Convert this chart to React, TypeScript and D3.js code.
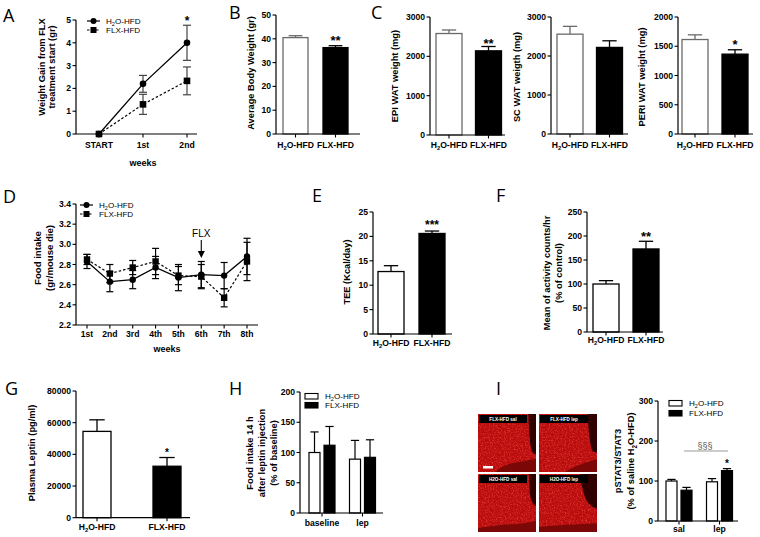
import React from "react";
import * as d3 from "d3";

const FONT = "'Liberation Sans', Arial, Helvetica, sans-serif";
const LETTER_FONT = "'Open Sans', 'Noto Sans', sans-serif";
const TITLE_FS = 9.3;
const TICK_FS = 8.6;
const LEG_FS = 8.1;

// ---------------- data ----------------
const groups = ["H2O-HFD", "FLX-HFD"];

const weeksA = ["START", "1st", "2nd"];
const gainH2O = [0, 2.2, 4.0];
const gainH2OErr = [0, 0.37, 0.77];
const gainFLX = [0, 1.3, 2.33];
const gainFLXErr = [0, 0.44, 0.61];

const bodyWeight = [40.5, 36.3];
const bodyWeightErr = [0.8, 0.8];

const epiWat = [2580, 2140];
const epiWatErr = [90, 110];
const scWat = [2560, 2220];
const scWatErr = [200, 170];
const periWat = [1615, 1365];
const periWatErr = [80, 75];

const weeksD = ["1st", "2nd", "3rd", "4th", "5th", "6th", "7th", "8th"];
const foodH2O = [2.83, 2.63, 2.65, 2.77, 2.67, 2.7, 2.69, 2.88];
const foodH2OErr = [0.07, 0.1, 0.09, 0.11, 0.13, 0.13, 0.13, 0.18];
const foodFLX = [2.85, 2.71, 2.77, 2.83, 2.69, 2.68, 2.47, 2.83];
const foodFLXErr = [0.05, 0.09, 0.07, 0.13, 0.09, 0.12, 0.09, 0.19];

const tee = [12.8, 20.6];
const teeErr = [1.2, 0.5];

const activity = [100, 173];
const activityErr = [7, 16];

const leptin = [54500, 32500];
const leptinErr = [7300, 5500];

const leptinGroups = ["baseline", "lep"];
const foodLepH2O = [100, 89];
const foodLepH2OErr = [34, 31];
const foodLepFLX = [112, 92];
const foodLepFLXErr = [31, 29];

const statGroups = ["sal", "lep"];
const pstatH2O = [100, 98];
const pstatH2OErr = [4, 8];
const pstatFLX = [77, 126];
const pstatFLXErr = [7, 5];

const imageLabels = ["FLX-HFD sal", "FLX-HFD lep", "H2O-HFD sal", "H2O-HFD lep"];

// ---------------- helpers ----------------
function Lbl({ text, fs }: { text: string; fs: number }) {
  const parts = text.split("H2O");
  const out: React.ReactNode[] = [];
  parts.forEach((p, i) => {
    if (i > 0) {
      out.push(<tspan key={"h" + i}>H</tspan>);
      out.push(
        <tspan key={"s" + i} fontSize={fs * 0.68} dy={fs * 0.28}>
          2
        </tspan>
      );
      out.push(
        <tspan key={"o" + i} dy={-fs * 0.28}>
          O
        </tspan>
      );
    }
    if (p) out.push(<tspan key={"p" + i}>{p}</tspan>);
  });
  return <>{out}</>;
}

function YAxis({
  x,
  scale,
  count,
  fmt = d3.format("d"),
  fs = TICK_FS,
}: {
  x: number;
  scale: d3.ScaleLinear<number, number>;
  count: number;
  fmt?: (v: number) => string;
  fs?: number;
}) {
  const [r0, r1] = scale.range();
  const ticks = scale.ticks(count);
  return (
    <g>
      <line x1={x} x2={x} y1={r0} y2={r1} stroke="#000" strokeWidth={1.2} />
      {ticks.map((t) => (
        <g key={t}>
          <line x1={x - 3.5} x2={x} y1={scale(t)} y2={scale(t)} stroke="#000" strokeWidth={1.1} />
          <text
            x={x - 5}
            y={scale(t)}
            dy="0.35em"
            textAnchor="end"
            fontSize={fs}
            fontWeight="bold"
            fontFamily={FONT}
          >
            {fmt(t)}
          </text>
        </g>
      ))}
    </g>
  );
}

function XAxis({
  x0,
  x1,
  y,
  positions,
  labels,
  labelY,
  fs = TICK_FS,
}: {
  x0: number;
  x1: number;
  y: number;
  positions: number[];
  labels: string[];
  labelY: number;
  fs?: number;
}) {
  return (
    <g>
      <line x1={x0} x2={x1} y1={y} y2={y} stroke="#000" strokeWidth={1.2} />
      {positions.map((p, i) => (
        <g key={i}>
          <line x1={p} x2={p} y1={y} y2={y + 3.5} stroke="#000" strokeWidth={1.1} />
          <text x={p} y={labelY} dy="0.35em" textAnchor="middle" fontSize={fs} fontWeight="bold" fontFamily={FONT}>
            <Lbl text={labels[i]} fs={fs} />
          </text>
        </g>
      ))}
    </g>
  );
}

function VTitle({ lines, cy, fs = TITLE_FS }: { lines: { text: string; x: number }[]; cy: number; fs?: number }) {
  return (
    <>
      {lines.map((l) => (
        <text
          key={l.text}
          transform={`translate(${l.x},${cy}) rotate(-90)`}
          textAnchor="middle"
          dy="0.35em"
          fontSize={fs}
          fontWeight="bold"
          fontFamily={FONT}
        >
          <Lbl text={l.text} fs={fs} />
        </text>
      ))}
    </>
  );
}

function Star({ x, cy, text, fs, color = "#000" }: { x: number; cy: number; text: string; fs: number; color?: string }) {
  return (
    <text x={x} y={cy + 0.57 * fs} textAnchor="middle" fontSize={fs} fontWeight="bold" fontFamily={FONT} fill={color}>
      {text}
    </text>
  );
}

function Letter({ x, y, t }: { x: number; y: number; t: string }) {
  return (
    <text x={x} y={y} fontSize={18} fontFamily={LETTER_FONT} fill="#000">
      {t}
    </text>
  );
}

type PairProps = {
  axisX: number;
  axisEnd: number;
  yBottom: number;
  yTop: number;
  domainMax: number;
  tickCount: number;
  c1: number;
  c2: number;
  barW: number;
  values: number[];
  errs: number[];
  outline: string;
  labelY: number;
  titles: { text: string; x: number }[];
  titleY: number;
  stars?: { i: number; text: string; cy: number; fs: number }[];
};

function PairBars(p: PairProps) {
  const y = d3.scaleLinear().domain([0, p.domainMax]).range([p.yBottom, p.yTop]);
  const x = d3.scalePoint<string>().domain(groups).range([p.c1, p.c2]);
  const capW = p.barW * 0.55;
  return (
    <g>
      {groups.map((g, i) => {
        const cx = x(g) as number;
        const col = i === 0 ? p.outline : "#000";
        const top = y(p.values[i]);
        const et = y(p.values[i] + p.errs[i]);
        return (
          <g key={g}>
            <line x1={cx} x2={cx} y1={top} y2={et} stroke={col} strokeWidth={1.3} />
            <line x1={cx - capW / 2} x2={cx + capW / 2} y1={et} y2={et} stroke={col} strokeWidth={1.3} />
            <rect
              x={cx - p.barW / 2}
              y={top}
              width={p.barW}
              height={p.yBottom - top}
              fill={i === 0 ? "#fff" : "#000"}
              stroke={col}
              strokeWidth={1.3}
            />
          </g>
        );
      })}
      <YAxis x={p.axisX} scale={y} count={p.tickCount} />
      <XAxis
        x0={p.axisX}
        x1={p.axisEnd}
        y={p.yBottom}
        positions={groups.map((g) => x(g) as number)}
        labels={groups}
        labelY={p.labelY}
      />
      <VTitle lines={p.titles} cy={p.titleY} />
      {(p.stars || []).map((s, k) => (
        <Star key={k} x={x(groups[s.i]) as number} cy={s.cy} text={s.text} fs={s.fs} />
      ))}
    </g>
  );
}

type GroupedProps = {
  axisX: number;
  axisEnd: number;
  yBottom: number;
  yTop: number;
  domainMax: number;
  tickCount: number;
  cats: string[];
  c1: number;
  c2: number;
  barW: number;
  offset: number;
  s1: number[];
  e1: number[];
  s2: number[];
  e2: number[];
  labelY: number;
};

function GroupedBars(p: GroupedProps) {
  const y = d3.scaleLinear().domain([0, p.domainMax]).range([p.yBottom, p.yTop]);
  const x = d3.scalePoint<string>().domain(p.cats).range([p.c1, p.c2]);
  const capW = p.barW * 0.75;
  const series = [
    { v: p.s1, e: p.e1, fill: "#fff", dx: -p.offset },
    { v: p.s2, e: p.e2, fill: "#000", dx: p.offset },
  ];
  return (
    <g>
      {p.cats.map((c, ci) =>
        series.map((s, si) => {
          const cx = (x(c) as number) + s.dx;
          const top = y(s.v[ci]);
          const et = y(s.v[ci] + s.e[ci]);
          return (
            <g key={c + si}>
              <line x1={cx} x2={cx} y1={top} y2={et} stroke="#000" strokeWidth={1.2} />
              <line x1={cx - capW / 2} x2={cx + capW / 2} y1={et} y2={et} stroke="#000" strokeWidth={1.2} />
              <rect
                x={cx - p.barW / 2}
                y={top}
                width={p.barW}
                height={p.yBottom - top}
                fill={s.fill}
                stroke="#000"
                strokeWidth={1.2}
              />
            </g>
          );
        })
      )}
      <YAxis x={p.axisX} scale={y} count={p.tickCount} />
      <XAxis
        x0={p.axisX}
        x1={p.axisEnd}
        y={p.yBottom}
        positions={p.cats.map((c) => x(c) as number)}
        labels={p.cats}
        labelY={p.labelY}
      />
    </g>
  );
}

function ErrBar({ x, y1, y2, w, color = "#000" }: { x: number; y1: number; y2: number; w: number; color?: string }) {
  return (
    <g stroke={color} strokeWidth={1.2}>
      <line x1={x} x2={x} y1={y1} y2={y2} />
      <line x1={x - w / 2} x2={x + w / 2} y1={y1} y2={y1} />
      <line x1={x - w / 2} x2={x + w / 2} y1={y2} y2={y2} />
    </g>
  );
}

function LineLegend({ x, y, dashed, square, label }: { x: number; y: number; dashed: boolean; square: boolean; label: string }) {
  return (
    <g>
      <line x1={x} x2={x + 13} y1={y} y2={y} stroke="#000" strokeWidth={1.2} strokeDasharray={dashed ? "2.5,2" : undefined} />
      {square ? (
        <rect x={x + 6.5 - 3} y={y - 3} width={6} height={6} fill="#000" />
      ) : (
        <circle cx={x + 6.5} cy={y} r={3} fill="#000" />
      )}
      <text x={x + 19} y={y} dy="0.35em" fontSize={LEG_FS} fontFamily={FONT}>
        <Lbl text={label} fs={LEG_FS} />
      </text>
    </g>
  );
}

// ---------------- panel A ----------------
function PanelA() {
  const y = d3.scaleLinear().domain([0, 5]).range([134, 20]);
  const x = d3.scalePoint<string>().domain(weeksA).range([99, 187]);
  const line = d3
    .line<number>()
    .x((_, i) => x(weeksA[i]) as number)
    .y((d) => y(d));
  return (
    <g>
      <path d={line(gainFLX) || ""} fill="none" stroke="#000" strokeWidth={1.2} strokeDasharray="2.5,2" />
      <path d={line(gainH2O) || ""} fill="none" stroke="#000" strokeWidth={1.3} />
      {weeksA.map((w, i) =>
        gainH2OErr[i] > 0 ? (
          <g key={w}>
            <ErrBar x={x(w) as number} y1={y(gainH2O[i] + gainH2OErr[i])} y2={y(gainH2O[i] - gainH2OErr[i])} w={8} color="#444" />
            <ErrBar x={x(w) as number} y1={y(gainFLX[i] + gainFLXErr[i])} y2={y(gainFLX[i] - gainFLXErr[i])} w={8} color="#444" />
          </g>
        ) : null
      )}
      {weeksA.map((w, i) => (
        <circle key={"c" + w} cx={x(w) as number} cy={y(gainH2O[i])} r={3.3} fill="#000" />
      ))}
      {weeksA.map((w, i) => (
        <rect key={"r" + w} x={(x(w) as number) - 3.3} y={y(gainFLX[i]) - 3.3} width={6.6} height={6.6} fill="#000" />
      ))}
      <YAxis x={76} scale={y} count={5} />
      <XAxis x0={76} x1={197} y={134} positions={weeksA.map((w) => x(w) as number)} labels={weeksA} labelY={145} />
      <text x={143} y={163} dy="0.35em" textAnchor="middle" fontSize={9} fontWeight="bold" fontFamily={FONT}>
        weeks
      </text>
      <VTitle
        lines={[
          { text: "Weight Gain from FLX", x: 42 },
          { text: "treatment start (gr)", x: 52 },
        ]}
        cy={67}
      />
      <Star x={x("2nd") as number} cy={18} text="*" fs={12} />
      <LineLegend x={87} y={21} dashed={false} square={false} label="H2O-HFD" />
      <LineLegend x={87} y={30} dashed={true} square={true} label="FLX-HFD" />
    </g>
  );
}

// ---------------- panel D ----------------
function PanelD() {
  const y = d3.scaleLinear().domain([2.2, 3.4]).range([325, 204]);
  const x = d3.scalePoint<string>().domain(weeksD).range([87, 247]);
  const line = d3
    .line<number>()
    .x((_, i) => x(weeksD[i]) as number)
    .y((d) => y(d));
  const x6 = x("6th") as number;
  return (
    <g>
      <path d={line(foodFLX) || ""} fill="none" stroke="#000" strokeWidth={1.2} strokeDasharray="2.5,2" />
      <path d={line(foodH2O) || ""} fill="none" stroke="#000" strokeWidth={1.3} />
      {weeksD.map((w, i) => (
        <g key={w}>
          <ErrBar x={x(w) as number} y1={y(foodH2O[i] + foodH2OErr[i])} y2={y(foodH2O[i] - foodH2OErr[i])} w={7} />
          <ErrBar x={x(w) as number} y1={y(foodFLX[i] + foodFLXErr[i])} y2={y(foodFLX[i] - foodFLXErr[i])} w={7} />
        </g>
      ))}
      {weeksD.map((w, i) => (
        <circle key={"c" + w} cx={x(w) as number} cy={y(foodH2O[i])} r={3.2} fill="#000" />
      ))}
      {weeksD.map((w, i) => (
        <rect key={"r" + w} x={(x(w) as number) - 3.2} y={y(foodFLX[i]) - 3.2} width={6.4} height={6.4} fill="#000" />
      ))}
      <YAxis x={76} scale={y} count={6} fmt={d3.format(".1f")} />
      <XAxis x0={76} x1={258} y={325} positions={weeksD.map((w) => x(w) as number)} labels={weeksD} labelY={334} />
      <text x={167} y={349} dy="0.35em" textAnchor="middle" fontSize={9} fontWeight="bold" fontFamily={FONT}>
        weeks
      </text>
      <VTitle
        lines={[
          { text: "Food intake", x: 38 },
          { text: "(gr/mouse die)", x: 50 },
        ]}
        cy={258}
        fs={9.6}
      />
      <LineLegend x={80} y={205} dashed={false} square={false} label="H2O-HFD" />
      <LineLegend x={80} y={214} dashed={true} square={true} label="FLX-HFD" />
      <text x={x6} y={233} dy="0.35em" textAnchor="middle" fontSize={10} fontFamily={FONT}>
        FLX
      </text>
      <line x1={x6} x2={x6} y1={240} y2={252} stroke="#000" strokeWidth={1.1} />
      <path d={`M${x6 - 3.5},251 L${x6 + 3.5},251 L${x6},258 Z`} fill="#000" />
    </g>
  );
}

// ---------------- panel I images ----------------
const imgShapes = [
  {
    strip: "M0.87,0 L1,0 L1,0.7 Q0.92,0.7 0.9,0.5 Q0.87,0.25 0.87,0 Z",
    bottom: "M0.3,1 Q0.42,0.87 0.68,0.83 Q0.86,0.8 1,0.77 L1,1 Z",
  },
  {
    strip: "M0.84,0 L1,0 L1,0.66 Q0.91,0.68 0.89,0.53 Q0.85,0.3 0.84,0 Z",
    bottom: "M0.45,1 Q0.6,0.9 0.8,0.84 Q0.9,0.8 1,0.78 L1,1 Z",
  },
  {
    strip: "M0.88,0 L1,0 L1,0.55 Q0.91,0.52 0.89,0.3 Z",
    bottom: "M0,0.93 Q0.4,0.87 0.7,0.86 Q0.9,0.84 1,0.81 L1,1 L0,1 Z",
  },
  {
    strip: "M0.7,0 L1,0 L1,0.6 Q0.84,0.55 0.78,0.36 Q0.72,0.16 0.7,0 Z",
    bottom: "M0,0.91 Q0.5,0.87 1,0.85 L1,1 L0,1 Z",
  },
];

function MicroImages() {
  const pos = [
    [478, 414],
    [539, 414],
    [478, 474],
    [539, 474],
  ];
  const S = 58;
  return (
    <g>
      <defs>
        <filter id="speckHi" x="0" y="0" width="1" height="1">
          <feTurbulence type="fractalNoise" baseFrequency="0.75" numOctaves="2" seed="4" result="n" />
          <feColorMatrix in="n" type="matrix" values="0 0 0 0 1  0 0 0 0 0.12  0 0 0 0 0.1  2.6 0 0 0 -1.25" />
        </filter>
        <filter id="speckLo" x="0" y="0" width="1" height="1">
          <feTurbulence type="fractalNoise" baseFrequency="0.5" numOctaves="2" seed="11" result="n" />
          <feColorMatrix in="n" type="matrix" values="0 0 0 0 0.35  0 0 0 0 0  0 0 0 0 0  3 0 0 0 -1.3" />
        </filter>
      </defs>
      {pos.map(([px, py], i) => (
        <g key={i}>
          <rect x={px} y={py} width={S} height={S} fill="#bd0f0f" />
          <rect x={px} y={py} width={S} height={S} filter="url(#speckLo)" opacity={0.45} />
          <rect x={px} y={py} width={S} height={S} filter="url(#speckHi)" opacity={0.6} />
          <g transform={`translate(${px},${py}) scale(${S})`}>
            <path d={imgShapes[i].bottom} fill="#700606" opacity={0.85} />
            <path d={imgShapes[i].strip} fill="#300000" />
          </g>
          <rect x={px + 1} y={py + 1} width={48} height={8} fill="#000" />
          <text
            x={px + 25}
            y={py + 5}
            dy="0.35em"
            textAnchor="middle"
            fontSize={4.6}
            fontWeight="bold"
            fill="#fff"
            fontFamily={FONT}
          >
            {imageLabels[i]}
          </text>
        </g>
      ))}
      <rect x={483} y={466} width={10} height={2.5} fill="#fff" />
    </g>
  );
}

function BoxLegend({
  x,
  y,
  items,
  fs,
  gap = 9,
}: {
  x: number;
  y: number;
  items: { fill: string; label: string }[];
  fs: number;
  gap?: number;
}) {
  return (
    <g>
      {items.map((it, i) => (
        <g key={it.label}>
          <rect x={x} y={y + i * gap - 2.5} width={13} height={5.5} fill={it.fill} stroke="#000" strokeWidth={1.1} />
          <text x={x + 20} y={y + i * gap} dy="0.35em" fontSize={fs} fontFamily={FONT}>
            <Lbl text={it.label} fs={fs} />
          </text>
        </g>
      ))}
    </g>
  );
}

export default function App() {
  return (
    <svg
      width={760}
      height={537}
      viewBox="0 0 760 537"
      style={{ position: "absolute", left: 0, top: 0, background: "#fff" }}
    >
      <rect x={0} y={0} width={760} height={537} fill="#fff" />
      <Letter x={3} y={22} t="A" />
      <Letter x={229} y={19} t="B" />
      <Letter x={371} y={19} t="C" />
      <Letter x={3} y={203} t="D" />
      <Letter x={312} y={202} t="E" />
      <Letter x={496} y={202} t="F" />
      <Letter x={5} y={395} t="G" />
      <Letter x={229} y={395} t="H" />
      <Letter x={496} y={395} t="I" />

      <PanelA />

      <PairBars
        axisX={276}
        axisEnd={360}
        yBottom={134}
        yTop={15}
        domainMax={50}
        tickCount={5}
        c1={295.5}
        c2={335.5}
        barW={25}
        values={bodyWeight}
        errs={bodyWeightErr}
        outline="#6a6a6a"
        labelY={145}
        titles={[{ text: "Average Body Weight (gr)", x: 251 }]}
        titleY={73}
        stars={[{ i: 1, text: "**", cy: 38, fs: 13 }]}
      />

      <PairBars
        axisX={430}
        axisEnd={505}
        yBottom={135}
        yTop={17}
        domainMax={3000}
        tickCount={3}
        c1={449}
        c2={488.5}
        barW={26}
        values={epiWat}
        errs={epiWatErr}
        outline="#6a6a6a"
        labelY={145}
        titles={[{ text: "EPI WAT weight (mg)", x: 395 }]}
        titleY={76}
        stars={[{ i: 1, text: "**", cy: 41, fs: 13 }]}
      />
      <PairBars
        axisX={551}
        axisEnd={628}
        yBottom={134}
        yTop={17}
        domainMax={3000}
        tickCount={3}
        c1={570}
        c2={609.5}
        barW={26}
        values={scWat}
        errs={scWatErr}
        outline="#6a6a6a"
        labelY={145}
        titles={[{ text: "SC WAT weigth (mg)", x: 517 }]}
        titleY={77}
      />
      <PairBars
        axisX={678}
        axisEnd={753}
        yBottom={134}
        yTop={17}
        domainMax={2000}
        tickCount={4}
        c1={695}
        c2={735}
        barW={26}
        values={periWat}
        errs={periWatErr}
        outline="#6a6a6a"
        labelY={145}
        titles={[{ text: "PERI WAT weight (mg)", x: 642 }]}
        titleY={77}
        stars={[{ i: 1, text: "*", cy: 42, fs: 13 }]}
      />

      <PanelD />

      <PairBars
        axisX={373}
        axisEnd={452}
        yBottom={334}
        yTop={212}
        domainMax={25}
        tickCount={5}
        c1={391}
        c2={432}
        barW={26}
        values={tee}
        errs={teeErr}
        outline="#000"
        labelY={343}
        titles={[{ text: "TEE (Kcal/day)", x: 347 }]}
        titleY={272}
        stars={[{ i: 1, text: "***", cy: 222, fs: 12 }]}
      />

      <PairBars
        axisX={587}
        axisEnd={663}
        yBottom={332}
        yTop={212}
        domainMax={250}
        tickCount={5}
        c1={606}
        c2={646}
        barW={26}
        values={activity}
        errs={activityErr}
        outline="#000"
        labelY={340}
        titles={[
          { text: "Mean of activity counts/hr", x: 547 },
          { text: "(% of control)", x: 559 },
        ]}
        titleY={273}
        stars={[{ i: 1, text: "**", cy: 234, fs: 13 }]}
      />

      <PairBars
        axisX={76}
        axisEnd={190}
        yBottom={517.7}
        yTop={391}
        domainMax={80000}
        tickCount={4}
        c1={97}
        c2={167}
        barW={28}
        values={leptin}
        errs={leptinErr}
        outline="#000"
        labelY={527}
        titles={[{ text: "Plasma Leptin (pg/ml)", x: 32 }]}
        titleY={453}
        stars={[{ i: 1, text: "*", cy: 450, fs: 10 }]}
      />

      <GroupedBars
        axisX={300}
        axisEnd={383}
        yBottom={513}
        yTop={392}
        domainMax={200}
        tickCount={4}
        cats={leptinGroups}
        c1={322}
        c2={362.5}
        barW={11}
        offset={7.5}
        s1={foodLepH2O}
        e1={foodLepH2OErr}
        s2={foodLepFLX}
        e2={foodLepFLXErr}
        labelY={523}
      />
      <VTitle
        lines={[
          { text: "Food intake 14 h", x: 250 },
          { text: "after leptin injection", x: 262 },
          { text: "(% of baseline)", x: 274 },
        ]}
        cy={453}
      />
      <BoxLegend
        x={305}
        y={396}
        fs={LEG_FS}
        items={[
          { fill: "#fff", label: "H2O-HFD" },
          { fill: "#000", label: "FLX-HFD" },
        ]}
      />

      <MicroImages />

      <GroupedBars
        axisX={658}
        axisEnd={738}
        yBottom={521}
        yTop={401}
        domainMax={300}
        tickCount={3}
        cats={statGroups}
        c1={679}
        c2={719.5}
        barW={11}
        offset={7.5}
        s1={pstatH2O}
        e1={pstatH2OErr}
        s2={pstatFLX}
        e2={pstatFLXErr}
        labelY={529}
      />
      <VTitle
        lines={[
          { text: "pSTAT3/STAT3", x: 618 },
          { text: "(% of saline H2O-HFD)", x: 631 },
        ]}
        cy={461}
      />
      <BoxLegend
        x={669}
        y={403}
        fs={LEG_FS}
        gap={10}
        items={[
          { fill: "#fff", label: "H2O-HFD" },
          { fill: "#000", label: "FLX-HFD" },
        ]}
      />
      <line x1={684} x2={728} y1={451} y2={451} stroke="#999" strokeWidth={1.2} />
      <text x={705} y={446} dy="0.35em" textAnchor="middle" fontSize={9} fontFamily={FONT} fill="#555">
        §§§
      </text>
      <Star x={727} cy={461} text="*" fs={10} />
    </svg>
  );
}
